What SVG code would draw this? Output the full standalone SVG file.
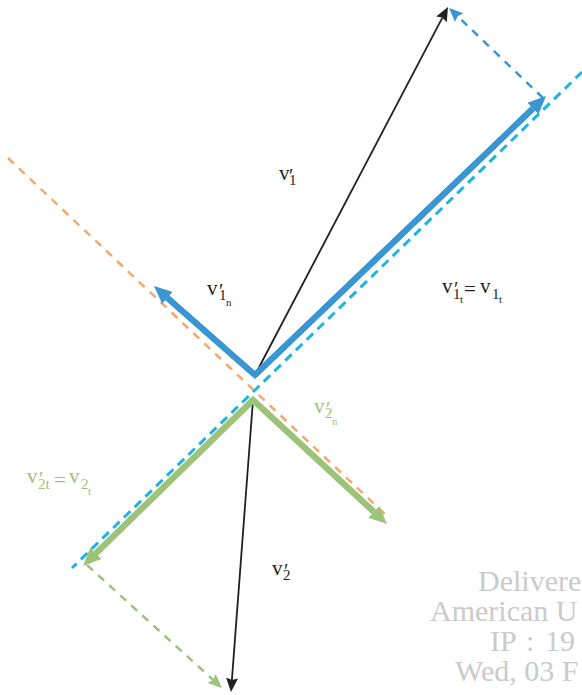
<svg xmlns="http://www.w3.org/2000/svg" width="582" height="695" viewBox="0 0 582 695">
<style>
.lbl{font-family:"Liberation Serif","Times New Roman",serif;font-size:21px;fill:#231f20}
.sub{font-size:15px}
.ssub{font-size:11px}
.pr{font-family:"Liberation Serif","DejaVu Serif",serif;font-size:20px}
.g{fill:#9dc27a}
.wm{font-family:"Liberation Serif","Times New Roman",serif;font-size:30px;fill:#cacaca}
</style>
<defs>
<marker id="hb" markerUnits="userSpaceOnUse" viewBox="0 -10 20 20" markerWidth="20" markerHeight="20" refX="0" refY="0" orient="auto"><path d="M0,-8 L18,0 L0,8 z" fill="#3a95d3"/></marker>
<marker id="hg" markerUnits="userSpaceOnUse" viewBox="0 -10 20 20" markerWidth="20" markerHeight="20" refX="0" refY="0" orient="auto"><path d="M0,-8 L18,0 L0,8 z" fill="#9dc27a"/></marker>
<marker id="hk" markerUnits="userSpaceOnUse" viewBox="0 -8 16 16" markerWidth="16" markerHeight="16" refX="2" refY="0" orient="auto"><path d="M0,-6 L14,0 L0,6 L2,0 z" fill="#231f20"/></marker>
<marker id="hbs" markerUnits="userSpaceOnUse" viewBox="0 -8 16 16" markerWidth="16" markerHeight="16" refX="2" refY="0" orient="auto"><path d="M0,-6 L14,0 L0,6 L2,0 z" fill="#3a95d3"/></marker>
<marker id="hgs" markerUnits="userSpaceOnUse" viewBox="0 -8 16 16" markerWidth="16" markerHeight="16" refX="2" refY="0" orient="auto"><path d="M0,-6 L14,0 L0,6 L2,0 z" fill="#9dc27a"/></marker>
</defs>
<g id="connectors" fill="none">
<line x1="8" y1="158" x2="388" y2="517" stroke="#f5a86a" stroke-width="2.5" stroke-dasharray="8,7"/>
<line x1="582" y1="72" x2="72" y2="568" stroke="#1fb4e0" stroke-width="3" stroke-dasharray="9,6"/>
<line x1="543" y1="98" x2="457.7" y2="16.3" stroke="#3a95d3" stroke-width="2.5" stroke-dasharray="8,7" marker-end="url(#hbs)"/>
<line x1="87" y1="565" x2="213.1" y2="679.9" stroke="#9dc27a" stroke-width="2.5" stroke-dasharray="8,7" marker-end="url(#hgs)"/>
<line x1="255" y1="375" x2="442.4" y2="17.6" stroke="#231f20" stroke-width="1.8" marker-end="url(#hk)"/>
<line x1="253" y1="400" x2="231.9" y2="680" stroke="#231f20" stroke-width="1.8" marker-end="url(#hk)"/>
<polyline points="167.5,297.9 255,375 533,108.5" stroke="#3a95d3" stroke-width="6" stroke-linejoin="miter"/>
<line x1="255" y1="375" x2="167.5" y2="297.9" stroke="#3a95d3" stroke-width="6" marker-end="url(#hb)"/>
<line x1="255" y1="375" x2="533" y2="108.5" stroke="#3a95d3" stroke-width="6" marker-end="url(#hb)"/>
<polyline points="95.9,553.4 253,400 373.8,511.8" stroke="#9dc27a" stroke-width="6" stroke-linejoin="miter"/>
<line x1="253" y1="400" x2="95.9" y2="553.4" stroke="#9dc27a" stroke-width="6" marker-end="url(#hg)"/>
<line x1="253" y1="400" x2="373.8" y2="511.8" stroke="#9dc27a" stroke-width="6" marker-end="url(#hg)"/>
</g>
<g id="label-v1p">
<text class="lbl" x="279" y="180">v<tspan class="pr" x="289" y="183">′</tspan><tspan class="sub" x="289" y="185">1</tspan></text>
</g>
<g id="label-v1n">
<text class="lbl" x="207" y="295">v<tspan class="pr" x="219" y="298">′</tspan><tspan class="sub" x="219" y="300">1</tspan><tspan class="ssub" x="226" y="306">n</tspan></text>
</g>
<g id="label-v1t">
<text class="lbl" x="442" y="293">v<tspan class="pr" x="454" y="296">′</tspan><tspan class="sub" x="453" y="299">1</tspan><tspan class="ssub" x="460" y="303">t</tspan><tspan x="464" y="296">=</tspan><tspan x="480" y="293">v</tspan><tspan class="sub" x="492" y="299">1</tspan><tspan class="ssub" x="499" y="303">t</tspan></text>
</g>
<g id="label-v2n">
<text class="lbl g" x="314" y="413">v<tspan class="pr" x="326" y="416">′</tspan><tspan class="sub" x="325" y="418">2</tspan><tspan class="ssub" x="332" y="425">n</tspan></text>
</g>
<g id="label-v2t">
<text class="lbl g" x="27" y="483">v<tspan class="pr" x="39" y="486">′</tspan><tspan class="sub" x="38" y="489">2t</tspan><tspan x="54" y="487">=</tspan><tspan x="69" y="483">v</tspan><tspan class="sub" x="81" y="489">2</tspan><tspan class="ssub" x="88" y="495">t</tspan></text>
</g>
<g id="label-v2p">
<text class="lbl" x="272" y="575">v<tspan class="pr" x="284" y="578">′</tspan><tspan class="sub" x="283" y="580">2</tspan></text>
</g>
<g id="watermark">
<text class="wm" x="478" y="591">Delivere</text>
<text class="wm" x="430" y="621">American U</text>
<text class="wm" x="490" y="651" word-spacing="3">IP : 19</text>
<text class="wm" x="455" y="681">Wed, 03 F</text>
</g>
</svg>
